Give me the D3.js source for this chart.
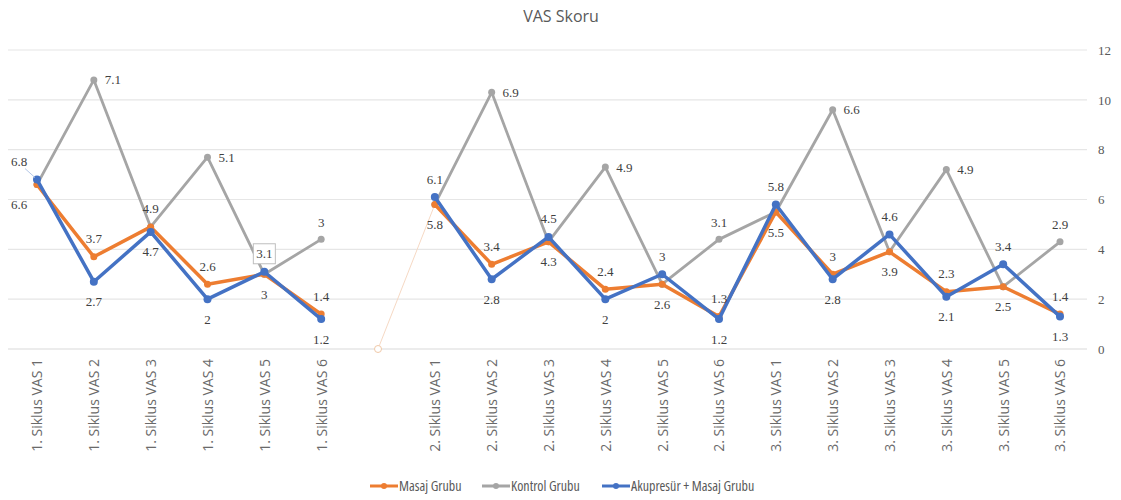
<!DOCTYPE html>
<html><head><meta charset="utf-8">
<script src="https://cdn.jsdelivr.net/npm/d3@7"></script>
<style>body{margin:0;background:#fff}svg{display:block}</style>
</head><body><svg id="c" width="1121" height="500"></svg>
<script>
const categories = ["1. Siklus VAS 1","1. Siklus VAS 2","1. Siklus VAS 3","1. Siklus VAS 4","1. Siklus VAS 5","1. Siklus VAS 6","",
  "2. Siklus VAS 1","2. Siklus VAS 2","2. Siklus VAS 3","2. Siklus VAS 4","2. Siklus VAS 5","2. Siklus VAS 6",
  "3. Siklus VAS 1","3. Siklus VAS 2","3. Siklus VAS 3","3. Siklus VAS 4","3. Siklus VAS 5","3. Siklus VAS 6"];
const masaj   = [6.6,3.7,4.9,2.6,3,1.4, 0, 5.8,3.4,4.3,2.4,2.6,1.3, 5.5,3,3.9,2.3,2.5,1.4];
const kontrol = [null,7.1,null,5.1,null,3, null, null,6.9,null,4.9,null,3.1, null,6.6,null,4.9,null,2.9];
const akupresur = [6.8,2.7,4.7,2,3.1,1.2, null, 6.1,2.8,4.5,2,3,1.2, 5.8,2.8,4.6,2.1,3.4,1.3];
const yTicks = [0,2,4,6,8,10,12];
const seriesNames = ["Masaj Grubu","Kontrol Grubu","Akupresür + Masaj Grubu"];
const colors = ["#ED7D31","#A5A5A5","#4472C4"];
const boxedLabel = 4; // index of the boxed data label in Akupresür series

const svg = d3.select("#c");
const x = d3.scalePoint().domain(d3.range(categories.length)).range([37,1060]);
const y = d3.scaleLinear().domain([0,12]).range([349,50]);
const blank = categories.indexOf("");
const labelFont = "'Liberation Serif', 'DejaVu Serif', serif";
const sansFont = "'Open Sans', 'DejaVu Sans', sans-serif";

// title
svg.append("text").attr("x",561).attr("y",22).attr("text-anchor","middle")
  .attr("font-family",sansFont).attr("font-size",16).attr("fill","#595959").text("VAS Skoru");

// gridlines
svg.append("g").selectAll("line").data(yTicks).join("line")
  .attr("x1",8).attr("x2",1087).attr("y1",d=>y(d)).attr("y2",d=>y(d))
  .attr("stroke",d=>d===0?"#d9d9d9":"#e6e6e6").attr("stroke-width",1.2);

// right axis
const yAxis = d3.axisRight(y).tickValues(yTicks).tickSize(0).tickPadding(0);
const ga = svg.append("g").attr("transform","translate(1098,0)").call(yAxis);
ga.select(".domain").remove();
ga.selectAll("text").attr("font-family",labelFont).attr("font-size",13).attr("fill","#595959").attr("x",0).attr("dy","0.32em");

// x axis labels
const xAxis = d3.axisBottom(x).tickSize(0).tickFormat(i=>categories[i]);
const gx = svg.append("g").attr("transform","translate(0,349)").call(xAxis);
gx.select(".domain").remove();
gx.selectAll("text").attr("font-family",sansFont).attr("font-size",14).attr("fill","#6a6a6a")
  .attr("transform","rotate(-90)").attr("text-anchor","end").attr("x",-10).attr("y",0).attr("dy","0.35em");

// stacked positions
const kontrolPos = masaj.map((m,i)=> i===blank ? null : m + (kontrol[i]||0));
const akuPos = akupresur;

function segs(vals){
  const out=[];
  for(let i=0;i<vals.length-1;i++){
    if(vals[i]==null||vals[i+1]==null) continue;
    if(i+1===blank) continue;
    out.push({i, a:vals[i], b:vals[i+1], thin: i===blank});
  }
  return out;
}
const line = d3.line().x(d=>x(d[0])).y(d=>y(d[1]));
function drawSeries(vals, color, w, r){
  const g = svg.append("g");
  g.selectAll("path").data(segs(vals)).join("path")
    .attr("d",s=>line([[s.i,s.a],[s.i+1,s.b]]))
    .attr("fill","none").attr("stroke",s=>s.thin?"#f6d9c4":color)
    .attr("stroke-width",s=>s.thin?1:w).attr("stroke-linecap","round");
  g.selectAll("circle").data(vals.map((v,i)=>[i,v]).filter(d=>d[1]!=null)).join("circle")
    .attr("cx",d=>x(d[0])).attr("cy",d=>y(d[1]))
    .attr("r",d=>d[0]===blank?3.5:r)
    .attr("fill",d=>d[0]===blank?"#fff":color)
    .attr("stroke",d=>d[0]===blank?"#f0c9a8":"none").attr("stroke-width",1);
}
drawSeries(kontrolPos, colors[1], 2.8, 3.5);
drawSeries(masaj, colors[0], 3.5, 3.5);
drawSeries(akuPos, colors[2], 3.5, 4);

// data labels
const labels = [];
categories.forEach((c,i)=>{
  if(i===blank) return;
  const m = masaj[i], a = akupresur[i];
  const dxFirst = i===0 ? -18 : 0;
  const mUp = m > a, aUp = a >= m;
  labels.push({x:x(i)+dxFirst, y:y(m)+(mUp?-18:20), t:m, boxed:false});
  labels.push({x:x(i)+dxFirst, y:y(a)+(aUp?-18:20), t:a, boxed:i===boxedLabel});
  if(kontrol[i]!=null){
    const isLast = categories[i].endsWith("6");
    labels.push({x:x(i)+(isLast?0:19), y:y(kontrolPos[i])+(isLast?-17:0), t:kontrol[i], boxed:false});
  }
});
const gl = svg.append("g");
// leader line for first Akupresür label
gl.append("line").attr("x1",x(0)-12).attr("y1",y(akupresur[0])-11).attr("x2",x(0)-2).attr("y2",y(akupresur[0])-2)
  .attr("stroke","#b4c7e7").attr("stroke-width",1);
labels.filter(d=>d.boxed).forEach(d=>{
  gl.append("rect").attr("x",d.x-11).attr("y",d.y-10).attr("width",22).attr("height",20)
    .attr("fill","#fff").attr("stroke","#bfbfbf").attr("stroke-width",1);
});
gl.selectAll("text").data(labels).join("text")
  .attr("x",d=>d.x).attr("y",d=>d.y).attr("dy","0.35em").attr("text-anchor","middle")
  .attr("font-family",labelFont).attr("font-size",13).attr("fill","#404040").text(d=>d.t);

// legend
const legX = [370,482,602];
const lg = svg.append("g").attr("transform","translate(0,486)");
seriesNames.forEach((n,k)=>{
  lg.append("line").attr("x1",legX[k]).attr("x2",legX[k]+28).attr("y1",0).attr("y2",0)
    .attr("stroke",colors[k]).attr("stroke-width",3);
  lg.append("circle").attr("cx",legX[k]+14).attr("cy",0).attr("r",3).attr("fill",colors[k]);
  lg.append("text").attr("x",legX[k]+29).attr("y",0).attr("dy","0.35em")
    .attr("font-family",sansFont).attr("font-size",14).attr("font-stretch","condensed").attr("fill","#595959").text(n);
});
</script></body></html>
